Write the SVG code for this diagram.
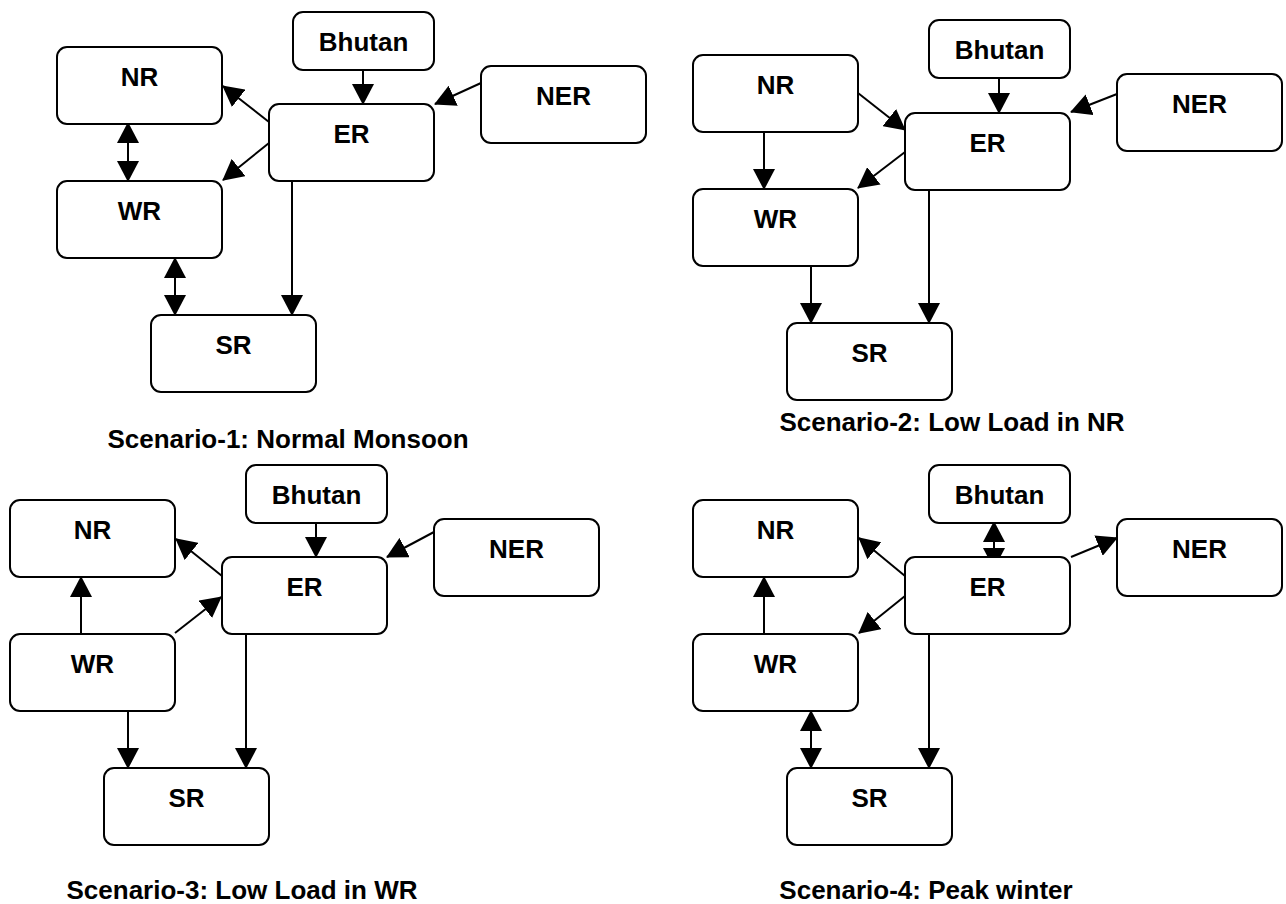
<svg xmlns="http://www.w3.org/2000/svg" width="1286" height="904" viewBox="0 0 1286 904">
<style>
.box{fill:#fff;stroke:#000;stroke-width:2}
.lbl{font-family:"Liberation Sans",Arial,sans-serif;font-weight:bold;font-size:26px;text-anchor:middle;fill:#000}
.cap{font-family:"Liberation Sans",Arial,sans-serif;font-weight:bold;font-size:26px;text-anchor:middle;fill:#000}
.c{stroke:#000;stroke-width:2;fill:none;marker-end:url(#ah)}
.d{marker-start:url(#ahs)}
</style>
<defs>
<marker id="ah" viewBox="0 0 21 22" refX="20" refY="11" markerWidth="21" markerHeight="22" markerUnits="userSpaceOnUse" orient="auto"><path d="M0,0 L21,11 L0,22 z" fill="#000"/></marker>
<marker id="ahs" viewBox="0 0 21 22" refX="20" refY="11" markerWidth="21" markerHeight="22" markerUnits="userSpaceOnUse" orient="auto-start-reverse"><path d="M0,0 L21,11 L0,22 z" fill="#000"/></marker>
</defs>
<rect width="1286" height="904" fill="#fff"/>

<g id="connectors">
<path class="c" d="M363,70 L363,104"/>
<path class="c" d="M481,83 L435,104"/>
<path class="c" d="M269,122 L223,86"/>
<path class="c" d="M269,143 L223,180"/>
<path class="c d" d="M128,123 L128,181"/>
<path class="c d" d="M175,258 L175,315"/>
<path class="c" d="M292,181 L292,315"/>

<path class="c" d="M999,78 L999,113"/>
<path class="c" d="M1117,94 L1071,112"/>
<path class="c" d="M858,93 L905,130"/>
<path class="c" d="M905,152 L858,188"/>
<path class="c" d="M764,132 L764,189"/>
<path class="c" d="M811,266 L811,323"/>
<path class="c" d="M929,190 L929,323"/>

<path class="c" d="M316,522 L316,557"/>
<path class="c" d="M434,532 L387,557"/>
<path class="c" d="M222,576 L176,539"/>
<path class="c" d="M175,633 L221,597"/>
<path class="c" d="M81,634 L81,577"/>
<path class="c" d="M128,711 L128,768"/>
<path class="c" d="M246,634 L246,768"/>

<path class="c d" d="M994,522 L994,568"/>
<path class="c" d="M1071,557 L1117,538"/>
<path class="c" d="M905,576 L859,538"/>
<path class="c" d="M905,596 L859,633"/>
<path class="c" d="M764,634 L764,577"/>
<path class="c d" d="M811,711 L811,768"/>
<path class="c" d="M929,634 L929,768"/>
</g>

<g id="s1-NR"><rect class="box" x="57" y="47" width="165" height="77" rx="10"/><text class="lbl" x="139.5" y="86">NR</text></g>
<g id="s1-Bhutan"><rect class="box" x="293" y="12" width="141" height="58" rx="10"/><text class="lbl" x="363.5" y="51">Bhutan</text></g>
<g id="s1-ER"><rect class="box" x="269" y="104" width="165" height="77" rx="10"/><text class="lbl" x="351.5" y="143">ER</text></g>
<g id="s1-WR"><rect class="box" x="57" y="181" width="165" height="77" rx="10"/><text class="lbl" x="139.5" y="220">WR</text></g>
<g id="s1-SR"><rect class="box" x="151" y="315" width="165" height="77" rx="10"/><text class="lbl" x="233.5" y="354">SR</text></g>
<g id="s1-NER"><rect class="box" x="481" y="66" width="165" height="77" rx="10"/><text class="lbl" x="563.5" y="105">NER</text></g>
<g id="s1-caption"><text class="cap" x="288" y="448">Scenario-1: Normal Monsoon</text></g>

<g id="s2-NR"><rect class="box" x="693" y="55" width="165" height="77" rx="10"/><text class="lbl" x="775.5" y="94">NR</text></g>
<g id="s2-Bhutan"><rect class="box" x="929" y="20" width="141" height="58" rx="10"/><text class="lbl" x="999.5" y="59">Bhutan</text></g>
<g id="s2-ER"><rect class="box" x="905" y="113" width="165" height="77" rx="10"/><text class="lbl" x="987.5" y="152">ER</text></g>
<g id="s2-WR"><rect class="box" x="693" y="189" width="165" height="77" rx="10"/><text class="lbl" x="775.5" y="228">WR</text></g>
<g id="s2-SR"><rect class="box" x="787" y="323" width="165" height="77" rx="10"/><text class="lbl" x="869.5" y="362">SR</text></g>
<g id="s2-NER"><rect class="box" x="1117" y="74" width="165" height="77" rx="10"/><text class="lbl" x="1199.5" y="113">NER</text></g>
<g id="s2-caption"><text class="cap" x="952" y="431">Scenario-2: Low Load in NR</text></g>

<g id="s3-NR"><rect class="box" x="10" y="500" width="165" height="77" rx="10"/><text class="lbl" x="92.5" y="539">NR</text></g>
<g id="s3-Bhutan"><rect class="box" x="246" y="465" width="141" height="58" rx="10"/><text class="lbl" x="316.5" y="504">Bhutan</text></g>
<g id="s3-ER"><rect class="box" x="222" y="557" width="165" height="77" rx="10"/><text class="lbl" x="304.5" y="596">ER</text></g>
<g id="s3-WR"><rect class="box" x="10" y="634" width="165" height="77" rx="10"/><text class="lbl" x="92.5" y="673">WR</text></g>
<g id="s3-SR"><rect class="box" x="104" y="768" width="165" height="77" rx="10"/><text class="lbl" x="186.5" y="807">SR</text></g>
<g id="s3-NER"><rect class="box" x="434" y="519" width="165" height="77" rx="10"/><text class="lbl" x="516.5" y="558">NER</text></g>
<g id="s3-caption"><text class="cap" x="242" y="899">Scenario-3: Low Load in WR</text></g>

<g id="s4-NR"><rect class="box" x="693" y="500" width="165" height="77" rx="10"/><text class="lbl" x="775.5" y="539">NR</text></g>
<g id="s4-Bhutan"><rect class="box" x="929" y="465" width="141" height="58" rx="10"/><text class="lbl" x="999.5" y="504">Bhutan</text></g>
<g id="s4-ER"><rect class="box" x="905" y="557" width="165" height="77" rx="10"/><text class="lbl" x="987.5" y="596">ER</text></g>
<g id="s4-WR"><rect class="box" x="693" y="634" width="165" height="77" rx="10"/><text class="lbl" x="775.5" y="673">WR</text></g>
<g id="s4-SR"><rect class="box" x="787" y="768" width="165" height="77" rx="10"/><text class="lbl" x="869.5" y="807">SR</text></g>
<g id="s4-NER"><rect class="box" x="1117" y="519" width="165" height="77" rx="10"/><text class="lbl" x="1199.5" y="558">NER</text></g>
<g id="s4-caption"><text class="cap" x="926" y="899">Scenario-4: Peak winter</text></g>
</svg>
